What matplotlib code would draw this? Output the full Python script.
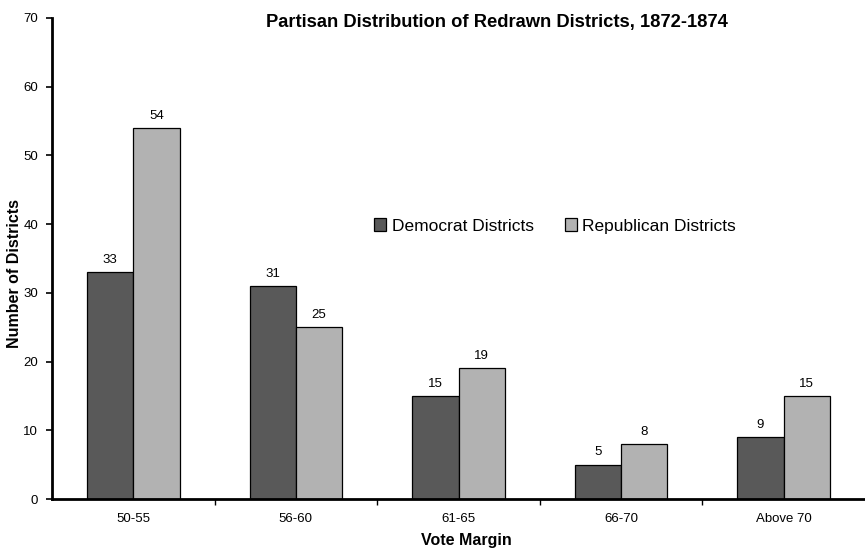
import matplotlib
matplotlib.use("Agg")
import matplotlib.pyplot as plt
import numpy as np

plt.rcParams['font.family'] = ['Liberation Sans', 'DejaVu Sans']

categories = ["50-55", "56-60", "61-65", "66-70", "Above 70"]
democrat = [33, 31, 15, 5, 9]
republican = [54, 25, 19, 8, 15]

fig = plt.figure(figsize=(8.65, 5.51), dpi=100)
ax = fig.add_axes([52/865, 1-499/551, 1-52/865, (499-18)/551])

x = np.arange(len(categories))
w = 0.285
b1 = ax.bar(x - w/2, democrat, w, color="#595959", edgecolor="black", linewidth=0.9, label="Democrat Districts")
b2 = ax.bar(x + w/2, republican, w, color="#b2b2b2", edgecolor="black", linewidth=0.9, label="Republican Districts")
for bars, vals in ((b1, democrat), (b2, republican)):
    for r, v in zip(bars, vals):
        ax.text(r.get_x() + r.get_width()/2, v + 0.9, str(v), ha="center", va="bottom", fontsize=9.5)

ax.set_xlim(-0.5, 4.5)
ax.set_ylim(0, 70)
ax.set_yticks(range(0, 71, 10))
ax.set_xticks(x)
ax.set_xticklabels(categories, fontsize=9.5)
ax.set_xticks(np.arange(0.5, 4.5, 1), minor=True)
ax.tick_params(axis='x', which='major', length=0, pad=10)
ax.tick_params(axis='x', which='minor', length=4, direction='out', width=1)
ax.tick_params(axis='y', length=4, width=1.2, labelsize=9.5, pad=6)
for s in ("top", "right"):
    ax.spines[s].set_visible(False)
for s in ("left", "bottom"):
    ax.spines[s].set_linewidth(2)

fig.text(466/865, 1-541/551, "Vote Margin", ha="center", va="center",
         fontsize=11.5, fontweight="bold")
fig.text(15/865, 1-274/551, "Number of Districts", ha="center", va="center",
         rotation=90, fontsize=11.5, fontweight="bold")

fig.text(497/865, 1-22/551, "Partisan Distribution of Redrawn Districts, 1872-1874",
         ha="center", va="center", fontsize=13.2, fontweight="bold")

ax.legend(loc="center", bbox_to_anchor=(555/865, 1-226/551), bbox_transform=fig.transFigure,
          ncol=2, frameon=False, fontsize=12.5, handlelength=0.7, handleheight=0.7,
          handletextpad=0.3, columnspacing=1.8)

fig.savefig("out.png", dpi=100)
